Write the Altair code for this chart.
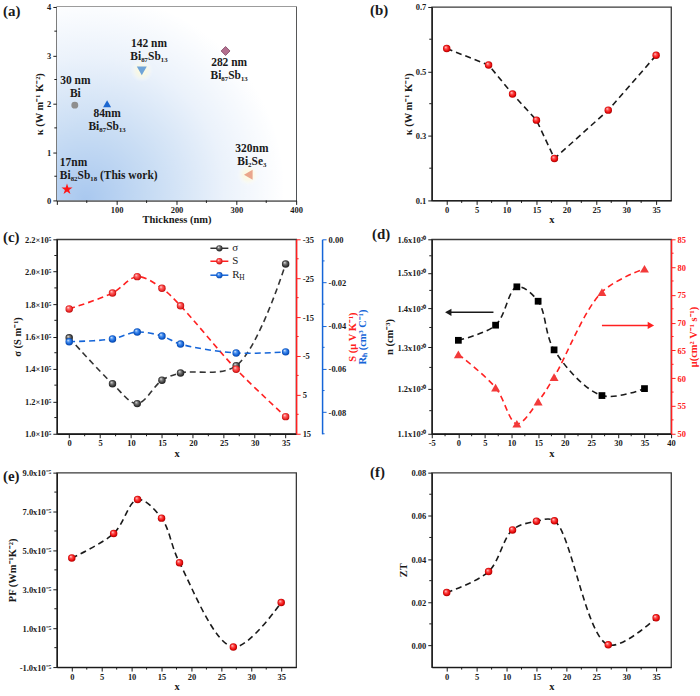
import altair as alt
import pandas as pd

FONT = "Liberation Serif"
INK = "#1a1a1a"
RED = "#ff2020"
BLUE = "#1565d8"

# ---------------- data ----------------
# (a) thermal conductivity vs film thickness (literature comparison)
a_names = ["Bi 30 nm", "Bi87Sb13 84 nm", "Bi87Sb13 142 nm", "Bi87Sb13 282 nm", "Bi2Se3 320 nm", "Bi82Sb18 17 nm"]
a_thickness = [30, 84, 142, 282, 320, 17]
a_kappa = [1.97, 2.00, 2.68, 3.09, 0.53, 0.23]
a_text = ["30 nm\nBi", "84nm\nBi₈₇Sb₁₃", "142 nm\nBi₈₇Sb₁₃", "282 nm\nBi₈₇Sb₁₃", "320nm\nBi₂Se₃"]
a_this_work = "17nm\nBi₈₂Sb₁₈ (This work)"

# (b)-(f) versus Sb content x
x_comp = [0, 7, 11, 15, 18, 27, 35]
kappa_b = [0.571, 0.520, 0.430, 0.349, 0.230, 0.380, 0.550]
sigma_c = [1.592e5, 1.309e5, 1.186e5, 1.330e5, 1.375e5, 1.420e5, 2.048e5]
seebeck_c = [-17.1, -21.2, -25.4, -22.4, -17.9, -1.6, 10.6]
hall_c = [-0.0474, -0.0461, -0.0429, -0.0448, -0.0485, -0.0526, -0.0521]
n_d = [1.317, 1.356, 1.460, 1.420, 1.293, 1.184, 1.200]      # x 10^20 cm^-3
mu_d = [64.3, 58.3, 51.8, 55.8, 60.2, 75.5, 79.7]
pf_e = [4.61, 5.87, 7.62, 6.66, 4.37, 0.03, 2.32]            # x 10^-5
zt_f = [0.0245, 0.0342, 0.0535, 0.0575, 0.0577, 0.0003, 0.0128]

legend_c = ["σ", "S", "R"]
legend_c_sub = ["", "", "H"]

# ---------------- annotation placement / styles ----------------
# position of the first line of each two-line label
a_label_x = [31, 84, 154, 288, 326]
a_label_y = [2.46, 1.78, 3.23, 2.84, 1.06]
this_work_xy = (5, 0.78)
STAR = ("M0,-1L0.2245,-0.309L0.9511,-0.309L0.3633,0.118L0.5878,0.809L0,0.382"
        "L-0.5878,0.809L-0.3633,0.118L-0.9511,-0.309L-0.2245,-0.309Z")
a_shapes = ["circle", "triangle-up", "triangle-down", "diamond", "triangle-left", STAR]
a_colors = ["#8e8e8e", "#1c67d0", "#6fa4d8", "#b36f8f", "#eaa68c", "#ff1515"]
a_sizes = [48, 64, 100, 80, 100, 135]

W = 240
H1, H2, H3 = 194, 195, 195

x_major = [0, 5, 10, 15, 20, 25, 30, 35]
x_minor = [2.5, 7.5, 12.5, 17.5, 22.5, 27.5, 32.5]
SMOOTH = "catmull-rom"


def grad(stops, x1=0.35, y1=0.3, x2=0.5, y2=0.5, r2=0.55):
    return alt.RadialGradient(
        gradient="radial", x1=x1, y1=y1, r1=0, x2=x2, y2=y2, r2=r2,
        stops=[alt.GradientStop(offset=o, color=c) for o, c in stops])


BALL_RED = grad([(0, "#ffffff"), (0.28, "#ff5b5b"), (0.7, "#ee0a0a"), (1, "#8c0000")])
BALL_BLACK = grad([(0, "#ffffff"), (0.28, "#8a8a8a"), (0.7, "#3c3c3c"), (1, "#111111")])
BALL_BLUE = grad([(0, "#ffffff"), (0.28, "#5a9cf2"), (0.7, "#0f5fd6"), (1, "#083a8a")])
BALL_REDC = grad([(0, "#ffffff"), (0.28, "#ff6e6e"), (0.7, "#f02a2a"), (1, "#a00000")])
BG_GRAD = grad([(0, "#a9c8ef"), (0.35, "#c9ddf4"), (0.7, "#ebf2fb"), (1, "#ffffff")],
               x1=0.12, y1=0.9, x2=0.15, y2=0.85, r2=0.8)
GLOW = grad([(0, "rgba(255,251,222,0.95)"), (0.5, "rgba(255,251,222,0.6)"), (1, "rgba(255,255,255,0)")],
            x1=0.5, y1=0.5, x2=0.5, y2=0.5, r2=0.5)


def sc(lo, hi, **kw):
    return alt.Scale(domain=[lo, hi], nice=False, zero=False, **kw)


def ax(values, title, expr=None, **kw):
    d = dict(values=values, title=title)
    if expr is not None:
        d["labelExpr"] = expr
    d.update(kw)
    return alt.Axis(**d)


def right_title(color, tx, h):
    return dict(orient="right", domainColor=color, tickColor=color, titleColor=color, domainWidth=1.5,
                titleAngle=270, titleX=tx, titleY=h / 2, titleAlign="center", titleBaseline="middle")


def dashed_line(df, xs, xa, ys, ya, color, interp):
    return alt.Chart(df).mark_line(color=color, strokeWidth=1.6, strokeDash=[6, 4],
                                   interpolate=interp).encode(
        x=alt.X("x:Q", scale=xs, axis=xa), y=alt.Y("y:Q", scale=ys, axis=ya))


def balls(df, xs, xa, ys, ya, fill, size=56):
    return alt.Chart(df).mark_circle(fill=fill, size=size, opacity=1).encode(
        x=alt.X("x:Q", scale=xs, axis=xa), y=alt.Y("y:Q", scale=ys, axis=ya))


def minor_x(vals, xs, xa, h, color=INK):
    return alt.Chart(pd.DataFrame({"v": vals})).mark_rule(color=color, strokeWidth=1).encode(
        x=alt.X("v:Q", scale=xs, axis=xa), y=alt.value(h), y2=alt.value(h + 2.5))


def minor_y(vals, ys, ya, x0, x1, color=INK):
    return alt.Chart(pd.DataFrame({"v": vals})).mark_rule(color=color, strokeWidth=1).encode(
        y=alt.Y("v:Q", scale=ys, axis=ya), x=alt.value(x0), x2=alt.value(x1))


def panel_label(txt, dx, dy):
    return alt.Chart(pd.DataFrame({"t": [txt]})).mark_text(
        align="left", baseline="middle", font=FONT, fontSize=15, fontWeight="bold", color=INK
    ).encode(x=alt.value(dx), y=alt.value(dy), text="t:N")


NEG1 = "(datum.value < 0 ? '-' : '') + abs(datum.value)"

# ---------------- (a) ----------------
xs_a, ys_a = sc(0, 400), sc(0, 4)
xa_a = ax([0, 100, 200, 300, 400], "Thickness (nm)", "datum.value == 0 ? '' : datum.label")
ya_a = ax([0, 1, 2, 3, 4], "κ (W m⁻¹ K⁻²)")
df_a = pd.DataFrame({"x": a_thickness, "y": a_kappa, "name": a_names})
one = pd.DataFrame({"k": [0]})
bg = alt.Chart(one).mark_rect(fill=BG_GRAD).encode(
    x=alt.XDatum(0, scale=xs_a, axis=xa_a), x2=alt.X2Datum(400),
    y=alt.YDatum(0, scale=ys_a, axis=ya_a), y2=alt.Y2Datum(4))
glow = alt.Chart(df_a).transform_filter(
    alt.FieldOneOfPredicate(field="name", oneOf=[a_names[2], a_names[4]])
).mark_circle(size=520, fill=GLOW, opacity=1).encode(
    x=alt.X("x:Q", scale=xs_a, axis=xa_a), y=alt.Y("y:Q", scale=ys_a, axis=ya_a))
df_alab = pd.DataFrame({"x": a_label_x, "y": a_label_y, "t": a_text})
text_kw = dict(font=FONT, fontSize=11.5, fontWeight="bold", lineBreak="\n", lineHeight=13,
               baseline="middle", color=INK)
a_layers = [bg, glow,
            alt.Chart(df_alab).mark_text(align="center", **text_kw).encode(
                x=alt.X("x:Q", scale=xs_a, axis=xa_a), y=alt.Y("y:Q", scale=ys_a, axis=ya_a), text="t:N"),
            alt.Chart(pd.DataFrame({"x": [this_work_xy[0]], "y": [this_work_xy[1]], "t": [a_this_work]}))
            .mark_text(align="left", **text_kw).encode(
                x=alt.X("x:Q", scale=xs_a, axis=xa_a), y=alt.Y("y:Q", scale=ys_a, axis=ya_a), text="t:N")]
for i, nm in enumerate(a_names):
    kw = dict(stroke="#7d4462", strokeWidth=0.8) if a_shapes[i] == "diamond" else {}
    a_layers.append(alt.Chart(df_a).transform_filter(alt.datum.name == nm).mark_point(
        shape=a_shapes[i], size=a_sizes[i], filled=True, fill=a_colors[i], opacity=1, **kw
    ).encode(x=alt.X("x:Q", scale=xs_a, axis=xa_a), y=alt.Y("y:Q", scale=ys_a, axis=ya_a)))
a_layers += [minor_x([50, 150, 250, 350], xs_a, xa_a, H1),
             minor_y([0.5, 1.5, 2.5, 3.5], ys_a, ya_a, 0, -2.5),
             panel_label("(a)", -54, 4)]
pa = alt.layer(*a_layers).properties(width=W, height=H1)

# ---------------- (b) ----------------
xs_b, ys_b = sc(-2.5, 37.5), sc(0.1, 0.7)
xa_b = ax(x_major, "x")
ya_b = ax([0.1, 0.3, 0.5, 0.7], "κ (W m⁻¹ K⁻¹)", "format(datum.value, '.1f')")
df_b = pd.DataFrame({"x": x_comp, "y": kappa_b})
pb = alt.layer(
    dashed_line(df_b, xs_b, xa_b, ys_b, ya_b, INK, "linear"),
    balls(df_b, xs_b, xa_b, ys_b, ya_b, BALL_RED),
    minor_x(x_minor, xs_b, xa_b, H1), minor_y([0.2, 0.4, 0.6], ys_b, ya_b, 0, -2.5),
    panel_label("(b)", -62, 3),
).properties(width=W, height=H1)

# ---------------- (c) ----------------
xs_c = sc(-2, 36.7)
xa_c = ax(x_major, "x")
ys_sig, ys_S, ys_R = sc(1.0e5, 2.2e5), sc(-35, 15, reverse=True), sc(-0.09, 0)
ya_sig = ax([1.0e5, 1.2e5, 1.4e5, 1.6e5, 1.8e5, 2.0e5, 2.2e5], "σ (S m⁻¹)",
            "format(datum.value / 100000, '.1f') + '×10⁵'", orient="left")
ya_S = ax([-35, -25, -15, -5, 5, 15], "S (μ V K⁻¹)", NEG1, **right_title(RED, 57, H2))
ya_R = ax([0, -0.02, -0.04, -0.06, -0.08], "Rₕ (cm³ C⁻¹)",
          "(datum.value < 0 ? '-' : '') + format(abs(datum.value), '.2f')",
          offset=26, **right_title(BLUE, 41, H2))
df_sig = pd.DataFrame({"x": x_comp, "y": sigma_c})
df_S = pd.DataFrame({"x": x_comp, "y": seebeck_c})
df_R = pd.DataFrame({"x": x_comp, "y": hall_c})
sig_layer = alt.layer(
    dashed_line(df_sig, xs_c, xa_c, ys_sig, ya_sig, "#333333", SMOOTH),
    balls(df_sig, xs_c, xa_c, ys_sig, ya_sig, BALL_BLACK),
    minor_x(x_minor, xs_c, xa_c, H2),
    minor_y([1.1e5, 1.3e5, 1.5e5, 1.7e5, 1.9e5, 2.1e5], ys_sig, ya_sig, 0, -2.5),
)
S_layer = alt.layer(
    dashed_line(df_S, xs_c, xa_c, ys_S, ya_S, RED, SMOOTH),
    balls(df_S, xs_c, xa_c, ys_S, ya_S, BALL_REDC),
    minor_y([-30, -20, -10, 0, 10], ys_S, ya_S, W, W + 2.5, RED),
)
R_layer = alt.layer(
    dashed_line(df_R, xs_c, xa_c, ys_R, ya_R, BLUE, SMOOTH),
    balls(df_R, xs_c, xa_c, ys_R, ya_R, BALL_BLUE),
    minor_y([-0.01, -0.03, -0.05, -0.07, -0.09], ys_R, ya_R, W + 26, W + 28.5, BLUE),
)
leg_layers = []
for lab, sub, col, fill, yy in zip(legend_c, legend_c_sub, ["#333333", RED, BLUE],
                                   [BALL_BLACK, BALL_REDC, BALL_BLUE], [9, 22, 36]):
    d1 = pd.DataFrame({"t": [lab], "s": [sub]})
    leg_layers += [
        alt.Chart(d1).mark_rule(color=col, strokeWidth=1.5).encode(
            x=alt.value(154), x2=alt.value(172), y=alt.value(yy)),
        alt.Chart(d1).mark_circle(fill=fill, size=40, opacity=1).encode(x=alt.value(163), y=alt.value(yy)),
        alt.Chart(d1).mark_text(align="left", baseline="middle", font=FONT, fontSize=11, color=INK).encode(
            x=alt.value(176), y=alt.value(yy), text="t:N"),
        alt.Chart(d1).mark_text(align="left", baseline="middle", font=FONT, fontSize=7.5, color=INK).encode(
            x=alt.value(183), y=alt.value(yy + 3), text="s:N"),
    ]
pc = alt.layer(sig_layer, S_layer, R_layer, *leg_layers, panel_label("(c)", -54, -2)).resolve_scale(
    y="independent").properties(width=W, height=H2)

# ---------------- (d) ----------------
xs_d = sc(-5, 40)
xa_d = ax(list(range(-5, 45, 5)), "x", NEG1)
ys_n = alt.Scale(type="log", domain=[1.1, 1.6], nice=False, zero=False)
ys_mu = sc(50, 85)
ya_n = ax([1.1, 1.2, 1.3, 1.4, 1.5, 1.6], "n (cm⁻³)", "format(datum.value, '.1f') + 'x10²⁰'", orient="left")
ya_mu = ax(list(range(50, 90, 5)), "μ(cm² V⁻¹ s⁻¹)", labelColor=RED, **right_title(RED, 22, H2))
df_n = pd.DataFrame({"x": x_comp, "y": n_d})
df_mu = pd.DataFrame({"x": x_comp, "y": mu_d})
arrow_n = pd.DataFrame({"x": [6.6], "x2": [-1.9], "y": [1.39]})
arrow_mu = pd.DataFrame({"x": [27.0], "x2": [36.2], "y": [69.5]})
n_layer = alt.layer(
    dashed_line(df_n, xs_d, xa_d, ys_n, ya_n, INK, SMOOTH),
    alt.Chart(df_n).mark_square(size=46, color="#000000", opacity=1).encode(
        x=alt.X("x:Q", scale=xs_d, axis=xa_d), y=alt.Y("y:Q", scale=ys_n, axis=ya_n)),
    alt.Chart(arrow_n).mark_rule(color=INK, strokeWidth=1.5).encode(
        x=alt.X("x:Q", scale=xs_d, axis=xa_d), x2="x2:Q", y=alt.Y("y:Q", scale=ys_n, axis=ya_n)),
    alt.Chart(arrow_n).mark_point(shape="triangle-left", size=55, filled=True, color=INK, opacity=1).encode(
        x=alt.X("x2:Q", scale=xs_d, axis=xa_d), y=alt.Y("y:Q", scale=ys_n, axis=ya_n)),
    minor_x([-2.5, 2.5, 7.5, 12.5, 17.5, 22.5, 27.5, 32.5, 37.5], xs_d, xa_d, H2),
    minor_y([1.15, 1.25, 1.35, 1.45, 1.55], ys_n, ya_n, 0, -2.5),
)
mu_layer = alt.layer(
    dashed_line(df_mu, xs_d, xa_d, ys_mu, ya_mu, RED, SMOOTH),
    alt.Chart(df_mu).mark_point(shape="triangle-up", size=80, filled=True, color="#f23a3a", opacity=1).encode(
        x=alt.X("x:Q", scale=xs_d, axis=xa_d), y=alt.Y("y:Q", scale=ys_mu, axis=ya_mu)),
    alt.Chart(arrow_mu).mark_rule(color=RED, strokeWidth=1.5).encode(
        x=alt.X("x:Q", scale=xs_d, axis=xa_d), x2="x2:Q", y=alt.Y("y:Q", scale=ys_mu, axis=ya_mu)),
    alt.Chart(arrow_mu).mark_point(shape="triangle-right", size=55, filled=True, color=RED, opacity=1).encode(
        x=alt.X("x2:Q", scale=xs_d, axis=xa_d), y=alt.Y("y:Q", scale=ys_mu, axis=ya_mu)),
    minor_y([52.5, 57.5, 62.5, 67.5, 72.5, 77.5, 82.5], ys_mu, ya_mu, W, W + 2.5, RED),
)
pd_ = alt.layer(n_layer, mu_layer, panel_label("(d)", -60, -5)).resolve_scale(
    y="independent").properties(width=W, height=H2)

# ---------------- (e) ----------------
xs_e, ys_e = sc(-2.5, 37.5), sc(-1, 9)
xa_e = ax(x_major, "x")
ya_e = ax([-1, 1, 3, 5, 7, 9], "PF (Wm⁻¹K⁻²)",
          "(datum.value < 0 ? '-' : '') + format(abs(datum.value), '.1f') + 'x10⁻⁵'")
df_e = pd.DataFrame({"x": x_comp, "y": pf_e})
pe = alt.layer(
    dashed_line(df_e, xs_e, xa_e, ys_e, ya_e, INK, SMOOTH),
    balls(df_e, xs_e, xa_e, ys_e, ya_e, BALL_RED),
    minor_x(x_minor, xs_e, xa_e, H3), minor_y([0, 2, 4, 6, 8], ys_e, ya_e, 0, -2.5),
    panel_label("(e)", -54, 3),
).properties(width=W, height=H3)

# ---------------- (f) ----------------
xs_f, ys_f = sc(-2.5, 37.5), sc(-0.01, 0.08)
xa_f = ax(x_major, "x")
ya_f = ax([0, 0.02, 0.04, 0.06, 0.08], "ZT", "format(datum.value, '.2f')")
df_f = pd.DataFrame({"x": x_comp, "y": zt_f})
pf = alt.layer(
    dashed_line(df_f, xs_f, xa_f, ys_f, ya_f, INK, SMOOTH),
    balls(df_f, xs_f, xa_f, ys_f, ya_f, BALL_RED),
    minor_x(x_minor, xs_f, xa_f, H3), minor_y([0.01, 0.03, 0.05, 0.07], ys_f, ya_f, 0, -2.5),
    panel_label("(f)", -62, -1),
).properties(width=W, height=H3)

chart = alt.concat(
    pa, pb, pc, pd_, pe, pf, columns=2, spacing={"row": 39, "column": 136}, bounds="flush"
).properties(
    padding={"left": 2, "top": 1, "right": 0, "bottom": 0}, background="white"
).configure_view(
    stroke="#3a3a3a", strokeWidth=1.3
).configure_axis(
    labelFont=FONT, titleFont=FONT, labelFontWeight="bold", titleFontWeight="bold",
    labelFontSize=8.5, titleFontSize=10.5, labelColor=INK, titleColor=INK,
    tickColor=INK, domainColor=INK, tickSize=4, tickWidth=1, domainWidth=1.3,
    grid=False, labelOverlap=False, labelFlush=False, labelPadding=2
).configure_axisX(titlePadding=1, labelPadding=1).configure_axisY(titlePadding=2)

chart.save("out.html", embed_options={"renderer": "svg", "actions": False})
